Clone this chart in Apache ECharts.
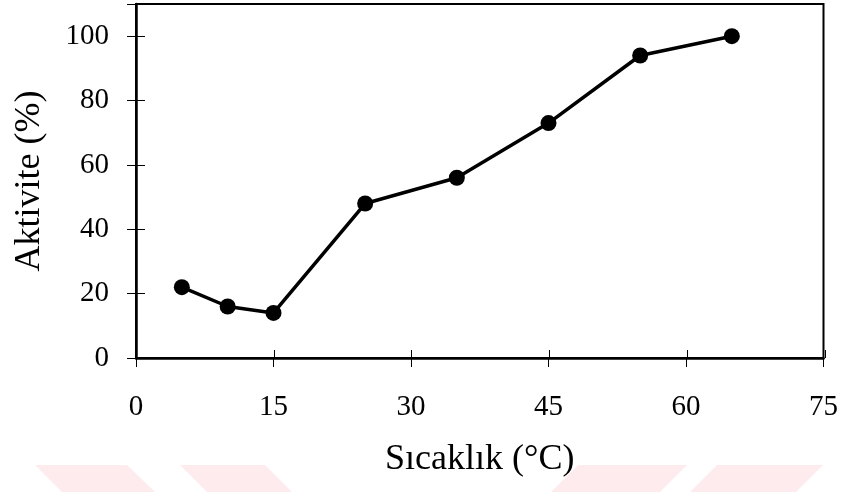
<!DOCTYPE html>
<html>
<head>
<meta charset="utf-8">
<script src="https://cdn.jsdelivr.net/npm/echarts@6/dist/echarts.min.js"></script>
<style>
  html, body { margin: 0; padding: 0; background: #ffffff; }
  #chart { width: 841px; height: 492px; }
</style>
</head>
<body>
<div id="chart"></div>
<script>
// Temperature (°C) versus relative activity (%)
const temperatures = [5, 10, 15, 25, 35, 45, 55, 65];
const activity = [22, 16, 14, 48, 56, 73, 94, 100];

const xTitle = 'Sıcaklık (°C)';
const yTitle = 'Aktivite (%)';

const FONT = '"Liberation Serif", "Times New Roman", serif';
const INK = '#000000';

const points = temperatures.map((t, i) => [t, activity[i]]);

const chart = echarts.init(document.getElementById('chart'), null, { renderer: 'canvas' });

// Faint bands along the bottom edge of the page
const band = '#fdebee';
const bands = [
  [[35, 465], [127, 465], [155, 492], [62, 492]],
  [[180, 465], [265, 465], [292, 492], [207, 492]],
  [[578, 465], [687, 465], [660, 492], [551, 492]],
  [[717, 465], [823, 465], [796, 492], [690, 492]]
].map(p => ({
  type: 'polygon',
  z: -10,
  silent: true,
  shape: { points: p },
  style: { fill: band }
}));

// Two identical grids: the first carries the axes with outward ticks,
// the second (overlaid) adds the inward half of each tick so they cross the axis line.
const gridRect = { left: 136, right: 16, top: 4, bottom: 134 };

const xBase = { type: 'value', min: 0, max: 75, interval: 15, splitLine: { show: false } };
const yBase = { type: 'value', min: 0, max: 110, interval: 20, splitLine: { show: false } };

chart.setOption({
  animation: false,
  backgroundColor: '#ffffff',
  graphic: bands,
  grid: [
    Object.assign({}, gridRect, {
      show: true, borderColor: INK, borderWidth: 2, backgroundColor: 'transparent'
    }),
    Object.assign({}, gridRect, { show: false })
  ],
  xAxis: [
    Object.assign({}, xBase, {
      gridIndex: 0, position: 'bottom',
      name: xTitle, nameLocation: 'middle', nameGap: 84,
      nameTextStyle: { fontFamily: FONT, fontSize: 36, color: INK },
      axisLine: { show: true, lineStyle: { color: INK, width: 2.5 } },
      axisTick: { show: true, inside: false, length: 9, lineStyle: { color: INK, width: 1 } },
      axisLabel: { fontFamily: FONT, fontSize: 29, color: INK, margin: 35,
        showMinLabel: true, showMaxLabel: true }
    }),
    Object.assign({}, xBase, {
      gridIndex: 1, position: 'bottom',
      axisLine: { show: false },
      axisTick: { show: true, inside: true, length: 8, lineStyle: { color: INK, width: 1 } },
      axisLabel: { show: false }
    })
  ],
  yAxis: [
    Object.assign({}, yBase, {
      gridIndex: 0, position: 'left',
      name: yTitle, nameLocation: 'middle', nameGap: 88, nameRotate: 90,
      nameTextStyle: { fontFamily: FONT, fontSize: 36, color: INK },
      axisLine: { show: true, lineStyle: { color: INK, width: 2.5 } },
      axisTick: { show: true, inside: false, length: 9, lineStyle: { color: INK, width: 1 } },
      axisLabel: { fontFamily: FONT, fontSize: 29, color: INK, margin: 27,
        formatter: v => (v > 100 ? '' : String(v)) }
    }),
    Object.assign({}, yBase, {
      gridIndex: 1, position: 'left',
      axisLine: { show: false },
      axisTick: { show: true, inside: true, length: 9, lineStyle: { color: INK, width: 1 },
        interval: (i, v) => Number(v) <= 100 },
      axisLabel: { show: false }
    })
  ],
  series: [{
    type: 'line',
    data: points,
    xAxisIndex: 0, yAxisIndex: 0,
    symbol: 'circle', symbolSize: 16,
    lineStyle: { color: INK, width: 3.5 },
    itemStyle: { color: INK, borderWidth: 0 },
    z: 5
  }]
});
</script>
</body>
</html>
